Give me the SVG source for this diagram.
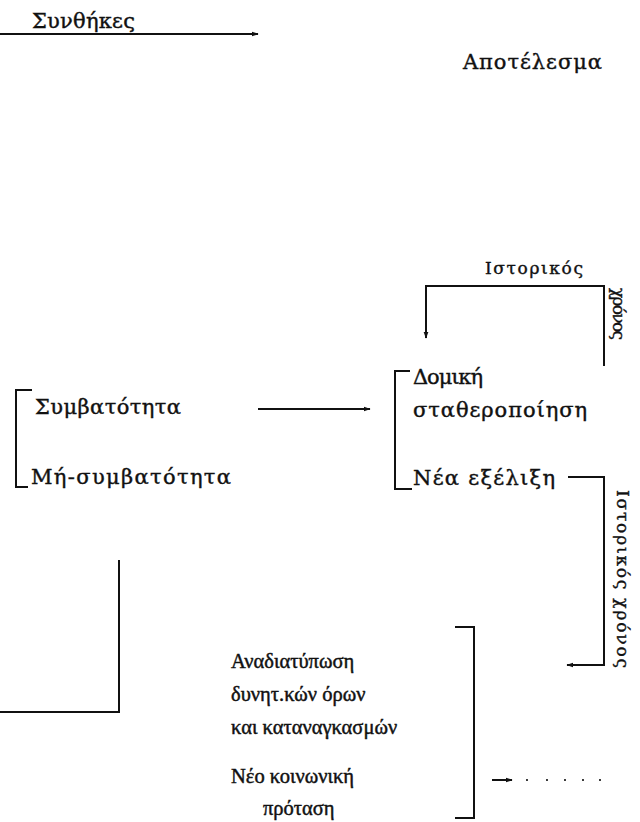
<svg xmlns="http://www.w3.org/2000/svg" width="640" height="822" viewBox="0 0 640 822">
<defs>
<style>
text{font-family:"DejaVu Serif","Liberation Serif",serif;fill:#111;stroke:#111;stroke-width:0.4;}
.t{font-size:21px;}
.b{font-family:"Liberation Serif","DejaVu Serif",serif;font-size:20.5px;stroke-width:0.45;}
.s{font-size:17px;}
.ln{fill:none;stroke:#111;stroke-width:2;}
</style>
<marker id="ah" viewBox="0 0 10 10" refX="9" refY="5" markerWidth="7" markerHeight="7" markerUnits="userSpaceOnUse" orient="auto"><path d="M0,1.5 L10,5 L0,8.5 Z" fill="#111"/></marker>
</defs>
<rect width="640" height="822" fill="#fff"/>
<g id="connectors">
<path class="ln" d="M0,34 H258" marker-end="url(#ah)"/>
<path class="ln" d="M604,366 V286 H426 V338" marker-end="url(#ah)"/>
<path class="ln" d="M258,409 H370" marker-end="url(#ah)"/>
<path class="ln" d="M568,477 H604 V665 H567" marker-end="url(#ah)"/>
<path class="ln" d="M119,560 V712 H0"/>
<path class="ln" d="M492,780 H512" marker-end="url(#ah)"/>
<path d="M527,780 h0 M547,780 h0 M565,780 h0 M583,780 h0 M600,780 h0" stroke="#111" stroke-width="2.2" stroke-linecap="round"/>
</g>
<g id="conditions"><text class="t" x="32" y="28" textLength="103">Συνθήκες</text></g>
<g id="result"><text class="t" x="463" y="69" textLength="139">Αποτέλεσμα</text></g>
<g id="historical-time-top">
<text class="s" x="485" y="274" textLength="98">Ιστορικός</text>
<text class="s" transform="translate(613,288) rotate(90)" textLength="52">χρόνος</text>
</g>
<g id="compatibility">
<path class="ln" d="M32,390 H16 V487 H28"/>
<text class="t" x="35" y="414" textLength="146">Συμβατότητα</text>
<text class="t" x="31" y="484" textLength="200">Μή-συμβατότητα</text>
</g>
<g id="structural">
<path class="ln" d="M410,371 H395 V489 H412"/>
<text class="t" x="413" y="384" textLength="70">Δομική</text>
<text class="t" x="413" y="417" textLength="174">σταθεροποίηση</text>
<text class="t" x="413" y="485" textLength="142">Νέα εξέλιξη</text>
</g>
<g id="historical-time-right">
<text class="s" transform="translate(617,490) rotate(90)" textLength="178">Ιστορικός χρόνος</text>
</g>
<g id="reformulation">
<path class="ln" d="M455,627 H474 V818 H455"/>
<text class="b" x="231" y="668">Αναδιατύπωση</text>
<text class="b" x="231" y="701">δυνητ.κών όρων</text>
<text class="b" x="231" y="734">και καταναγκασμών</text>
<text class="b" x="231" y="783">Νέο κοινωνική</text>
<text class="b" x="263" y="815">πρόταση</text>
</g>
</svg>
